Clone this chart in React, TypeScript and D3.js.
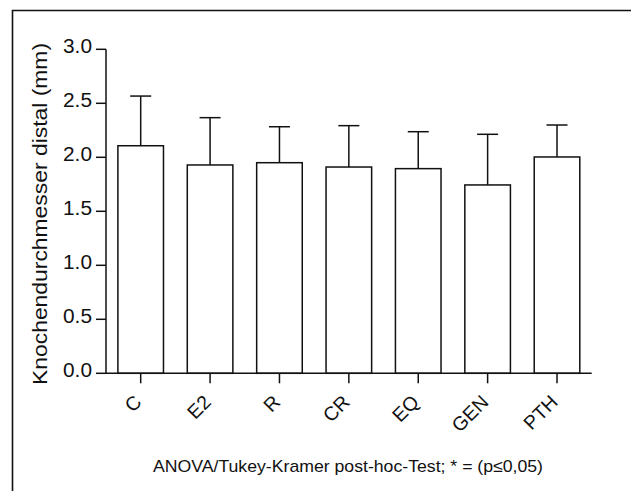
import React from "react";
import * as d3 from "d3";

const categories = ["C", "E2", "R", "CR", "EQ", "GEN", "PTH"];
const means = [2.107, 1.929, 1.95, 1.91, 1.895, 1.744, 2.003];
const sds = [0.46, 0.438, 0.333, 0.383, 0.342, 0.469, 0.296];
const yTicks = [0, 0.5, 1.0, 1.5, 2.0, 2.5, 3.0];
const yLabel = "Knochendurchmesser distal  (mm)";
const footnote = "ANOVA/Tukey-Kramer post-hoc-Test; * = (p\u22640,05)";

const W = 631;
const H = 491;
const ink = "#111";
const font = "'Liberation Sans', Arial, sans-serif";

export default function App() {
  const x = d3
    .scaleBand<string>()
    .domain(categories)
    .range([106, 591.7])
    .paddingInner(0.343)
    .paddingOuter(0.1715);
  const y = d3.scaleLinear().domain([0, 3]).range([373.3, 49.3]);
  const bw = x.bandwidth();
  const capW = 21;

  return (
    <svg
      width={W}
      height={H}
      overflow="hidden"
      style={{ position: "absolute", left: 0, top: 0, background: "#fff" }}
    >
      <rect x={0} y={0} width={W} height={H} fill="#fff" />
      {/* outer frame: only the left and top edges are inside the picture */}
      <path d={`M12.5,${H}V10.5H${W}`} fill="none" stroke={ink} strokeWidth={1.6} />

      {/* bars */}
      {categories.map((c, i) => {
        const x0 = x(c)!;
        const cx = x0 + bw / 2;
        const top = y(means[i]);
        const errTop = y(means[i] + sds[i]);
        return (
          <g key={c}>
            <line x1={cx} x2={cx} y1={top} y2={errTop} stroke={ink} strokeWidth={1.5} />
            <line x1={cx - capW / 2} x2={cx + capW / 2} y1={errTop} y2={errTop} stroke={ink} strokeWidth={1.5} />
            <rect x={x0} y={top} width={bw} height={y(0) - top} fill="#fff" stroke={ink} strokeWidth={1.5} />
          </g>
        );
      })}

      {/* y axis */}
      <line x1={106} x2={106} y1={y(3)} y2={y(0)} stroke={ink} strokeWidth={1.5} />
      {yTicks.map((t) => (
        <g key={t}>
          <line x1={96} x2={106} y1={y(t)} y2={y(t)} stroke={ink} strokeWidth={1.5} />
          <text
            x={92}
            y={y(t) + 3.8}
            textAnchor="end"
            fontFamily={font}
            fontSize={19.5}
            textLength={29}
            lengthAdjust="spacingAndGlyphs"
            fill={ink}
          >
            {t.toFixed(1)}
          </text>
        </g>
      ))}

      {/* x axis */}
      <line x1={106} x2={591.7} y1={y(0)} y2={y(0)} stroke={ink} strokeWidth={1.5} />
      {categories.map((c) => {
        const cx = x(c)! + bw / 2;
        return (
          <g key={c}>
            <line x1={cx} x2={cx} y1={y(0)} y2={y(0) + 10} stroke={ink} strokeWidth={1.5} />
            <text
              transform={`translate(${cx + 2},${y(0) + 30}) rotate(-45)`}
              textAnchor="end"
              fontFamily={font}
              fontSize={19.5}
              fill={ink}
            >
              {c}
            </text>
          </g>
        );
      })}

      {/* y label */}
      <text
        transform={`translate(46.5,214) rotate(-90)`}
        textAnchor="middle"
        fontFamily={font}
        fontSize={20}
        textLength={342}
        lengthAdjust="spacingAndGlyphs"
        fill={ink}
      >
        {yLabel}
      </text>

      {/* footnote */}
      <text
        x={153}
        y={472}
        fontFamily={font}
        fontSize={17}
        textLength={390}
        lengthAdjust="spacingAndGlyphs"
        fill={ink}
      >
        {footnote}
      </text>
    </svg>
  );
}
